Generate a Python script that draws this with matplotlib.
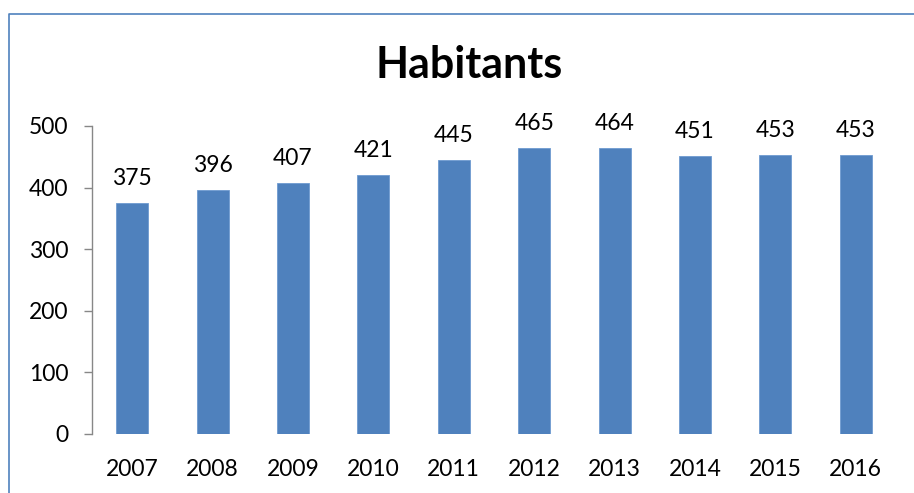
import matplotlib
matplotlib.use("Agg")
import matplotlib.pyplot as plt
from matplotlib.lines import Line2D

years = ["2007", "2008", "2009", "2010", "2011", "2012", "2013", "2014", "2015", "2016"]
habitants = [375, 396, 407, 421, 445, 465, 464, 451, 453, 453]
yticks = [0, 100, 200, 300, 400, 500]

plt.rcParams['font.family'] = ['Lato', 'DejaVu Sans']

W, H = 914, 493
fig = plt.figure(figsize=(W / 100, H / 100), dpi=100)
ax = fig.add_axes([92 / W, 1 - 434 / H, (896 - 92) / W, (434 - 126) / H])

x = list(range(len(years)))
ax.bar(x, habitants, width=0.4, color="#4F81BD", edgecolor="#6F9AD0", linewidth=0.6)
for xi, v in zip(x, habitants):
    ax.annotate(str(v), (xi, v), xytext=(0, 10), textcoords="offset points",
                ha="center", va="bottom", fontsize=16.5, color="black")

ax.set_xlim(-0.5, len(years) - 0.5)
ax.set_ylim(0, 500)
ax.set_yticks(yticks)
ax.set_yticklabels([str(t) for t in yticks])
ax.set_xticks(x)
ax.set_xticklabels(years)
ax.tick_params(axis="y", length=6, width=1, color="#878787", labelsize=16.5, pad=11)
ax.tick_params(axis="x", length=0, labelsize=16.5, pad=18)
for s in ["top", "right", "bottom"]:
    ax.spines[s].set_visible(False)
ax.spines["left"].set_color("#878787")
ax.spines["left"].set_linewidth(1)

fig.text(469 / W, 1 - 65 / H, "Habitants", ha="center", va="center",
         fontsize=31, fontweight="bold")

# outer chart border (left and top visible)
fig.add_artist(Line2D([8.5 / W, 8.5 / W, 1.0], [0.0, 1 - 13.5 / H, 1 - 13.5 / H],
                      transform=fig.transFigure, color="#4F81BD", linewidth=1.2))

fig.savefig("out.png", dpi=100)
